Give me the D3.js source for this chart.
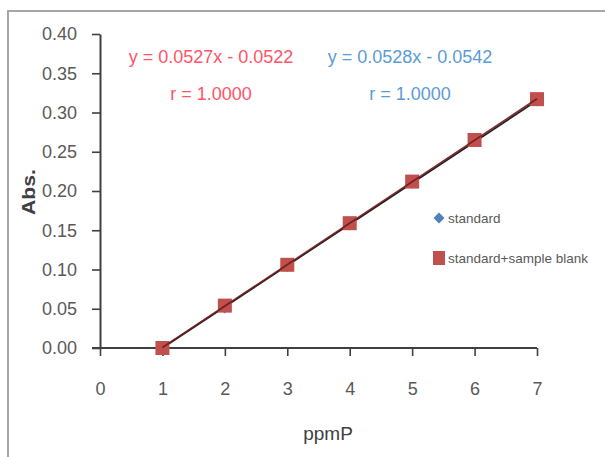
<!DOCTYPE html>
<html>
<head>
<meta charset="utf-8">
<script src="https://cdn.jsdelivr.net/npm/d3@7"></script>
<style>
body { margin: 0; background: #fff; }
svg text { font-family: "Liberation Sans", Arial, sans-serif; }
</style>
</head>
<body>
<div id="chart"></div>
<script>
// data
var ppm = [1, 2, 3, 4, 5, 6, 7];
var standard = [0.000, 0.051, 0.104, 0.157, 0.210, 0.263, 0.315];
var standardBlank = [0.000, 0.054, 0.106, 0.159, 0.212, 0.265, 0.317];
var xTicks = [0, 1, 2, 3, 4, 5, 6, 7];
var yTicks = [0, 0.05, 0.10, 0.15, 0.20, 0.25, 0.30, 0.35, 0.40];
var seriesNames = ["standard", "standard+sample blank"];
var eqRed = ["y = 0.0527x - 0.0522", "r = 1.0000"];
var eqBlue = ["y = 0.0528x - 0.0542", "r = 1.0000"];

var width = 605, height = 457;
var margin = {left: 100, right: 68, top: 34, bottom: 109};

var svg = d3.select("#chart").append("svg")
	.attr("width", width)
	.attr("height", height);

// outer frame
svg.append("rect")
	.attr("x", 8).attr("y", 11)
	.attr("width", 640).attr("height", 500)
	.attr("fill", "none")
	.attr("stroke", "#a6a6a6")
	.attr("stroke-width", 2);

var x_scale = d3.scaleLinear()
	.domain([0, 7])
	.range([margin.left, width - margin.right]);
var y_scale = d3.scaleLinear()
	.domain([0, 0.4])
	.range([height - margin.bottom, margin.top]);

var xAxis = d3.axisBottom(x_scale)
	.tickValues(xTicks)
	.tickFormat(d3.format("d"))
	.tickSize(8).tickSizeOuter(0).tickPadding(26);
var yAxis = d3.axisLeft(y_scale)
	.tickValues(yTicks)
	.tickFormat(d3.format(".2f"))
	.tickSize(8).tickSizeOuter(0).tickPadding(15);

var gx = svg.append("g")
	.attr("class", "x_axis")
	.attr("transform", "translate(0," + y_scale(0) + ")")
	.call(xAxis);
var gy = svg.append("g")
	.attr("class", "y_axis")
	.attr("transform", "translate(" + x_scale(0) + ",0)")
	.call(yAxis);

// extend x axis line to the left under the 0.00 tick
gx.select(".domain").attr("d", "M" + (x_scale(0) - 8) + ",0H" + x_scale(7));
svg.selectAll(".x_axis .domain, .y_axis .domain")
	.attr("stroke", "#404040").attr("stroke-width", 2);
svg.selectAll(".x_axis .tick line, .y_axis .tick line")
	.attr("stroke", "#404040").attr("stroke-width", 1.6);
svg.selectAll(".x_axis text, .y_axis text")
	.attr("fill", "#595959")
	.style("font-size", "18px");

// axis titles
svg.append("text")
	.attr("transform", "translate(35,192) rotate(-90)")
	.attr("text-anchor", "middle")
	.attr("fill", "#404040")
	.style("font-size", "18px")
	.style("font-weight", "bold")
	.attr("textLength", 46)
	.attr("lengthAdjust", "spacingAndGlyphs")
	.text("Abs.");
svg.append("text")
	.attr("x", 328).attr("y", 440)
	.attr("text-anchor", "middle")
	.attr("fill", "#404040")
	.style("font-size", "19px")
	.text("ppmP");

// least squares trendline from the data
function fit(xs, ys) {
	var mx = d3.mean(xs), my = d3.mean(ys);
	var sxy = 0, sxx = 0;
	for (var i = 0; i < xs.length; i++) {
		sxy += (xs[i] - mx) * (ys[i] - my);
		sxx += (xs[i] - mx) * (xs[i] - mx);
	}
	var b = sxy / sxx;
	return {b: b, a: my - b * mx};
}

var line = d3.line()
	.x(function(d) { return x_scale(d[0]); })
	.y(function(d) { return y_scale(d[1]); });

var fitStd = fit(ppm, standard);
var fitBlank = fit(ppm, standardBlank);
var x0 = d3.min(ppm), x1 = d3.max(ppm);

svg.append("path")
	.datum([[x0, Math.max(0, fitStd.a + fitStd.b * x0)], [x1, fitStd.a + fitStd.b * x1]])
	.attr("d", line)
	.attr("fill", "none")
	.attr("stroke", "#1e1e1e")
	.attr("stroke-width", 1.6);

// blue diamonds (rotated squares)
var diamond = d3.symbol().type(d3.symbolSquare).size(64);
svg.selectAll("path.std")
	.data(ppm)
	.enter()
	.append("path")
	.attr("class", "std")
	.attr("d", diamond)
	.attr("transform", function(d, i) {
		return "translate(" + x_scale(d) + "," + y_scale(standard[i]) + ") rotate(45)";
	})
	.attr("fill", "#4f81bd");

// red squares
var sq = 14;
svg.selectAll("rect.blank")
	.data(ppm)
	.enter()
	.append("rect")
	.attr("class", "blank")
	.attr("x", function(d) { return x_scale(d) - sq / 2; })
	.attr("y", function(d, i) { return y_scale(standardBlank[i]) - sq / 2; })
	.attr("width", sq)
	.attr("height", sq)
	.attr("fill", "#c0504d");

svg.append("path")
	.datum([[x0, Math.max(0, fitBlank.a + fitBlank.b * x0)], [x1, fitBlank.a + fitBlank.b * x1]])
	.attr("d", line)
	.attr("fill", "none")
	.attr("stroke", "#6e1c1c")
	.attr("stroke-width", 1.8)
	.attr("opacity", 0.9);

// equations
svg.selectAll("text.eq_red")
	.data(eqRed)
	.enter()
	.append("text")
	.attr("class", "eq_red")
	.attr("x", 211)
	.attr("y", function(d, i) { return 63 + i * 37; })
	.attr("text-anchor", "middle")
	.attr("fill", "#ff5468")
	.style("font-size", "18px")
	.text(function(d) { return d; });
svg.selectAll("text.eq_blue")
	.data(eqBlue)
	.enter()
	.append("text")
	.attr("class", "eq_blue")
	.attr("x", 410)
	.attr("y", function(d, i) { return 63 + i * 37; })
	.attr("text-anchor", "middle")
	.attr("fill", "#5b9bd5")
	.style("font-size", "18px")
	.text(function(d) { return d; });

// legend
var legend = svg.append("g").attr("class", "legend");
legend.append("path")
	.attr("d", d3.symbol().type(d3.symbolSquare).size(60))
	.attr("transform", "translate(439,218) rotate(45)")
	.attr("fill", "#4f81bd");
legend.append("rect")
	.attr("x", 433).attr("y", 251)
	.attr("width", 12).attr("height", 14)
	.attr("fill", "#c0504d");
legend.selectAll("text")
	.data(seriesNames)
	.enter()
	.append("text")
	.attr("x", 448)
	.attr("y", function(d, i) { return 223 + i * 40; })
	.attr("fill", "#595959")
	.style("font-size", "13.5px")
	.text(function(d) { return d; });
</script>
</body>
</html>
